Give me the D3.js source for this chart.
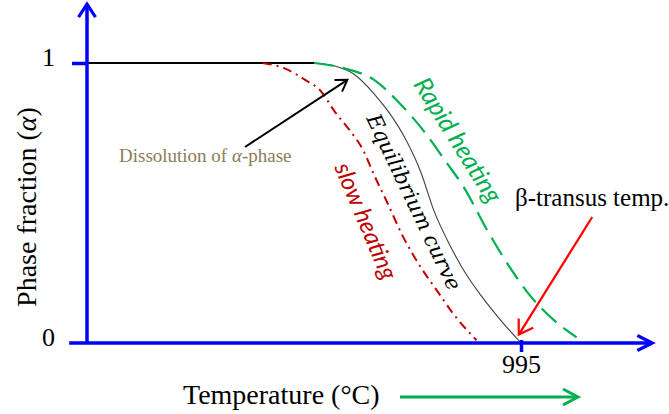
<!DOCTYPE html>
<html>
<head>
<meta charset="utf-8">
<script src="https://cdnjs.cloudflare.com/ajax/libs/d3/7.8.5/d3.min.js"></script>
<style>
  html, body { margin: 0; padding: 0; background: #fff; }
  svg { display: block; }
</style>
</head>
<body>
<div id="chart"></div>
<script>
// ---------- data ----------
// Equilibrium curve (temperature in °C, alpha-phase fraction)
const plateauT = [800, 902];
const plateauF = [1, 1];
const eqT = [902, 911, 920, 929, 936, 943, 950, 956, 963, 970, 977, 986, 995];
const eqF = [1.0, 0.99, 0.96, 0.89, 0.82, 0.73, 0.61, 0.47, 0.35, 0.25, 0.17, 0.08, 0];
// Rapid heating curve
const rapidT = [902, 916, 929, 940, 952, 961, 969, 980, 990, 999, 1010, 1020];
const rapidF = [1.0, 0.98, 0.94, 0.86, 0.75, 0.65, 0.56, 0.40, 0.27, 0.17, 0.08, 0.02];
// Slow heating curve
const slowT = [879, 889, 898, 905, 911, 918, 924, 929, 935, 942, 950, 957, 965, 975];
const slowF = [1.0, 0.98, 0.94, 0.90, 0.83, 0.76, 0.69, 0.60, 0.50, 0.38, 0.27, 0.19, 0.10, 0.01];
// Ticks
const xTickValues = [995];
const xTickLabels = ["995"];
const yTickValues = [0, 1];
const yTickLabels = ["0", "1"];
// Axis extents (data units)
const xAxisStart = 792, xAxisEnd = 1054;
const yAxisTop = 1.21;
// Annotations (data units)
const dissolutionArrow = { from: [871, 0.70], to: [917, 0.94] };
const transusArrow = { from: [1027, 0.45], to: [994, 0.03] };

// ---------- layout ----------
const W = 669, H = 414;
const svg = d3.select("#chart").append("svg").attr("width", W).attr("height", H);

const x = d3.scaleLinear().domain([800, 995]).range([87, 521]);
const y = d3.scaleLinear().domain([0, 1]).range([343, 63]);

const BLUE = "#0000ff", GREEN = "#00b050", DRED = "#c00000", RED = "#ff0000";
const serif = "'Liberation Serif', 'Times New Roman', serif";

const zip = (a, b) => a.map((v, i) => [v, b[i]]);
const line = d3.line().x(d => x(d[0])).y(d => y(d[1])).curve(d3.curveMonotoneX);

// ---------- curves ----------
svg.append("path").datum(zip(plateauT, plateauF)).attr("d", d3.line().x(d => x(d[0])).y(d => y(d[1])))
  .attr("fill", "none").attr("stroke", "#000").attr("stroke-width", 2);

svg.append("path").datum(zip(eqT, eqF)).attr("d", line)
  .attr("fill", "none").attr("stroke", "#404040").attr("stroke-width", 1.1);

svg.append("path").datum(zip(rapidT, rapidF)).attr("d", line)
  .attr("fill", "none").attr("stroke", GREEN).attr("stroke-width", 2.2)
  .attr("stroke-dasharray", "20,9");

svg.append("path").datum(zip(slowT, slowF)).attr("d", line)
  .attr("fill", "none").attr("stroke", DRED).attr("stroke-width", 2)
  .attr("stroke-dasharray", "9,5,2,5");

// ---------- axes ----------
const axG = svg.append("g");
axG.append("line").attr("x1", x(xAxisStart)).attr("x2", x(xAxisEnd) - 1)
  .attr("y1", y(0)).attr("y2", y(0)).attr("stroke", BLUE).attr("stroke-width", 3.5);
axG.append("path")
  .attr("d", `M${x(xAxisEnd) - 15},${y(0) - 7.5} L${x(xAxisEnd)},${y(0)} L${x(xAxisEnd) - 15},${y(0) + 7.5}`)
  .attr("fill", "none").attr("stroke", BLUE).attr("stroke-width", 3.2).attr("stroke-linejoin", "miter");
axG.append("line").attr("x1", x(800)).attr("x2", x(800))
  .attr("y1", y(0)).attr("y2", y(yAxisTop) + 1).attr("stroke", BLUE).attr("stroke-width", 3.5);
axG.append("path")
  .attr("d", `M${x(800) - 8.5},${y(yAxisTop) + 13} L${x(800)},${y(yAxisTop)} L${x(800) + 8.5},${y(yAxisTop) + 13}`)
  .attr("fill", "none").attr("stroke", BLUE).attr("stroke-width", 3.2);

const xAxis = d3.axisBottom(x).tickValues(xTickValues).tickFormat((d, i) => xTickLabels[i])
  .tickSize(12).tickPadding(3);
const xg = svg.append("g").attr("transform", `translate(0,${y(0) - 3})`).call(xAxis);
xg.select(".domain").remove();
xg.selectAll(".tick line").attr("stroke", BLUE).attr("stroke-width", 3.5);
xg.selectAll(".tick text").attr("fill", "#000").style("font-family", serif).style("font-size", "26px");

const yAxis = d3.axisLeft(y).tickValues(yTickValues).tickFormat((d, i) => yTickLabels[i])
  .tickSize(15).tickPadding(17);
const yg = svg.append("g").attr("transform", `translate(${x(800)},0)`).call(yAxis);
yg.select(".domain").remove();
yg.selectAll(".tick line").attr("stroke", d => d === 1 ? BLUE : "none").attr("stroke-width", 3.5);
yg.selectAll(".tick text").attr("fill", "#000").attr("dy", "0.1em")
  .style("font-family", serif).style("font-size", "26px");

// ---------- axis titles ----------
svg.append("text").attr("x", 183).attr("y", 404)
  .style("font-family", serif).style("font-size", "28px").attr("fill", "#000")
  .text("Temperature (°C)");

const ytl = svg.append("text")
  .attr("transform", `translate(36,${207}) rotate(-90)`)
  .attr("text-anchor", "middle")
  .style("font-family", serif).style("font-size", "28px").attr("fill", "#000");
ytl.append("tspan").text("Phase fraction (");
ytl.append("tspan").style("font-style", "italic").text("α");
ytl.append("tspan").text(")");

svg.append("line").attr("x1", 400).attr("x2", 577).attr("y1", 397).attr("y2", 397)
  .attr("stroke", GREEN).attr("stroke-width", 3);
svg.append("path").attr("d", "M563,389 L578,397 L563,405")
  .attr("fill", "none").attr("stroke", GREEN).attr("stroke-width", 3);

// ---------- annotations ----------
function arrow(a, color, w, head) {
  const x1 = x(a.from[0]), y1 = y(a.from[1]), x2 = x(a.to[0]), y2 = y(a.to[1]);
  const ang = Math.atan2(y2 - y1, x2 - x1);
  svg.append("line").attr("x1", x1).attr("y1", y1).attr("x2", x2).attr("y2", y2)
    .attr("stroke", color).attr("stroke-width", w);
  const a1 = ang + Math.PI * 0.82, a2 = ang - Math.PI * 0.82;
  svg.append("path")
    .attr("d", `M${x2 + head * Math.cos(a1)},${y2 + head * Math.sin(a1)} L${x2},${y2} L${x2 + head * Math.cos(a2)},${y2 + head * Math.sin(a2)}`)
    .attr("fill", "none").attr("stroke", color).attr("stroke-width", w);
}
arrow(dissolutionArrow, "#000", 2, 13);
arrow(transusArrow, RED, 2.2, 16);

const dt = svg.append("text").attr("x", 119).attr("y", 162)
  .style("font-family", serif).style("font-size", "19px").attr("fill", "#8b7d55");
dt.append("tspan").text("Dissolution  of ");
dt.append("tspan").style("font-style", "italic").text("α");
dt.append("tspan").text("-phase");

svg.append("text").attr("x", 515).attr("y", 206)
  .style("font-family", serif).style("font-size", "25px").attr("fill", "#000")
  .text("β-transus  temp.");

svg.append("text").attr("transform", "translate(458,140) rotate(58)")
  .attr("text-anchor", "middle").attr("dy", "0.35em")
  .style("font-family", "Lato, 'Open Sans', sans-serif").style("font-style", "italic")
  .style("font-size", "25px").attr("fill", GREEN).text("Rapid heating");

svg.append("text").attr("transform", "translate(414,202) rotate(64.5)")
  .attr("text-anchor", "middle").attr("dy", "0.35em")
  .style("font-family", "'DejaVu Serif', serif").style("font-style", "italic")
  .style("font-size", "21px").attr("fill", "#000").text("Equilibrium curve");

svg.append("text").attr("transform", "translate(366,221) rotate(67)")
  .attr("text-anchor", "middle").attr("dy", "0.35em")
  .style("font-family", "Lato, 'Open Sans', sans-serif").style("font-style", "italic")
  .style("font-size", "24px").attr("fill", DRED).text("slow heating");
</script>
</body>
</html>
